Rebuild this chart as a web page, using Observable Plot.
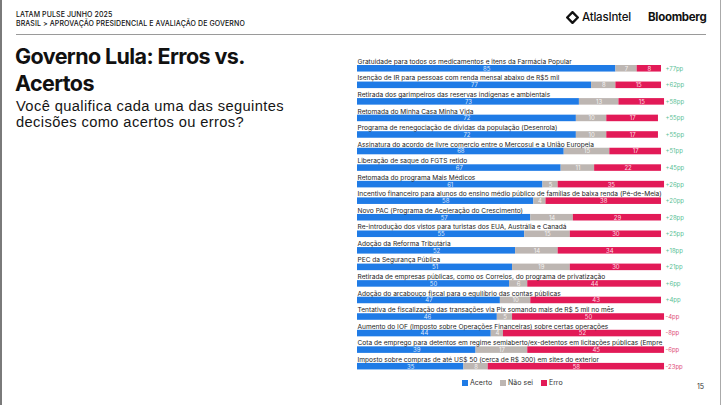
<!DOCTYPE html>
<html>
<head>
<meta charset="utf-8">
<script src="https://cdn.jsdelivr.net/npm/d3@7"></script>
<script src="https://cdn.jsdelivr.net/npm/@observablehq/plot@0.6"></script>
<style>
  html, body { margin: 0; padding: 0; background: #fff; }
  body { width: 723px; height: 405px; position: relative; overflow: hidden; font-family: Inter, "Noto Sans", sans-serif; color: #111; }
  .abs { position: absolute; white-space: nowrap; }
  #hdr1, #hdr2 { left: 16px; font-size: 7px; font-weight: 500; letter-spacing: 0.1px; }
  #hdr1 { top: 9.5px; }
  #hdr2 { top: 18.7px; }
  #rule { left: 16px; top: 34px; width: 690px; height: 1px; background: #9a9a9a; }
  .title { left: 15px; font-size: 21.5px; font-weight: 700; line-height: 21.5px; letter-spacing: -0.6px; }
  #t1 { top: 46.4px; }
  #t2 { top: 72.9px; }
  .sub { left: 16px; font-family: "Liberation Sans", Arial, sans-serif; font-size: 14.7px; font-weight: 400; line-height: 16.5px; letter-spacing: 0.38px; color: #151515; }
  #s1 { top: 97.7px; }
  #s2 { top: 114.4px; }
  #atlas { left: 582px; top: 10px; font-size: 11.5px; font-weight: 500; letter-spacing: -0.2px; }
  #atlasIcon { left: 566px; top: 11px; }
  #bloom { left: 648px; top: 10px; font-size: 11.5px; font-weight: 700; letter-spacing: -0.3px; }
  #chart { left: 350px; top: 50px; }
  #chart svg { display: block; }
  #legend { left: 462px; top: 378px; font-size: 7px; display: flex; gap: 8px; color: #333; }
  #legend span.sw { display: inline-block; width: 6px; height: 6px; margin-right: 2px; vertical-align: -0.5px; }
  #page { left: 697px; top: 382px; font-size: 7px; color: #333; }
  #lb { left: 0; top: 0; width: 2px; height: 405px; background: #7a7a7a; }
  #rb { left: 720px; top: 0; width: 1px; height: 405px; background: #aaa; }
</style>
</head>
<body>
<div id="lb" class="abs"></div>
<div id="rb" class="abs"></div>
<div id="hdr1" class="abs">LATAM PULSE JUNHO 2025</div>
<div id="hdr2" class="abs">BRASIL &gt; APROVAÇÃO PRESIDENCIAL E AVALIAÇÃO DE GOVERNO</div>
<div id="rule" class="abs"></div>
<svg id="atlasIcon" class="abs" width="13" height="13" viewBox="0 0 13 13"><path d="M6.5 1.2 L11.8 6.5 L6.5 11.8 L1.2 6.5 Z" fill="none" stroke="#111" stroke-width="2.4" stroke-linejoin="round"/></svg>
<div id="atlas" class="abs">AtlasIntel</div>
<div id="bloom" class="abs">Bloomberg</div>
<div id="t1" class="abs title">Governo Lula: Erros vs.</div>
<div id="t2" class="abs title">Acertos</div>
<div id="s1" class="abs sub">Você qualifica cada uma das seguintes</div>
<div id="s2" class="abs sub">decisões como acertos ou erros?</div>
<div id="chart" class="abs"></div>
<div id="legend" class="abs"></div>
<div id="page" class="abs">15</div>
<script>
const items = [
  "Gratuidade para todos os medicamentos e itens da Farmácia Popular",
  "Isenção de IR para pessoas com renda mensal abaixo de R$5 mil",
  "Retirada dos garimpeiros das reservas indígenas e ambientais",
  "Retomada do Minha Casa Minha Vida",
  "Programa de renegociação de dívidas da população (Desenrola)",
  "Assinatura do acordo de livre comercio entre o Mercosul e a União Europeia",
  "Liberação de saque do FGTS retido",
  "Retomada do programa Mais Médicos",
  "Incentivo financeiro para alunos do ensino médio público de famílias de baixa renda (Pé-de-Meia)",
  "Novo PAC (Programa de Aceleração do Crescimento)",
  "Re-introdução dos vistos para turistas dos EUA, Austrália e Canadá",
  "Adoção da Reforma Tributária",
  "PEC da Segurança Pública",
  "Retirada de empresas públicas, como os Correios, do programa de privatização",
  "Adoção do arcabouço fiscal para o equilíbrio das contas públicas",
  "Tentativa de fiscalização das transações via Pix somando mais de R$ 5 mil no mês",
  "Aumento do IOF (Imposto sobre Operações Financeiras) sobre certas operações",
  "Cota de emprego para detentos em regime semiaberto/ex-detentos em licitações públicas (Empre",
  "Imposto sobre compras de até US$ 50 (cerca de R$ 300) em sites do exterior"
];
const acerto = [85, 77, 73, 72, 72, 68, 67, 61, 58, 57, 55, 52, 51, 50, 47, 46, 44, 39, 35];
const naoSei = [7, 8, 13, 10, 10, 15, 11, 5, 4, 14, 15, 14, 19, 6, 10, 5, 4, 17, 8];
const erro   = [8, 15, 15, 17, 17, 17, 22, 35, 38, 29, 30, 34, 30, 44, 43, 50, 52, 45, 58];
const saldo  = ["+77pp", "+62pp", "+58pp", "+55pp", "+55pp", "+51pp", "+45pp", "+26pp", "+20pp", "+28pp",
                "+25pp", "+18pp", "+21pp", "+6pp", "+4pp", "-4pp", "-8pp", "-6pp", "-23pp"];
const responses = ["Acerto", "Não sei", "Erro"];
const colors = ["#1f7be6", "#bdb6b2", "#e21a57"];

const long = [];
items.forEach((it, i) => {
  long.push({item: it, resp: "Acerto", value: acerto[i]});
  long.push({item: it, resp: "Não sei", value: naoSei[i]});
  long.push({item: it, resp: "Erro", value: erro[i]});
});
const rows = items.map((it, i) => ({item: it, saldo: saldo[i]}));

const rowH = 16.55;
const innerH = rowH * items.length;
const chart = Plot.plot({
  width: 371,
  height: 5 + innerH + 1,
  marginLeft: 7,
  marginRight: 60,
  marginTop: 5,
  marginBottom: 1,
  style: {fontFamily: "Inter, 'Noto Sans', sans-serif", background: "transparent"},
  x: {domain: [0, 100], axis: null},
  y: {type: "band", domain: items, padding: 0, round: false, range: [5, 5 + innerH], axis: null},
  color: {domain: responses, range: colors},
  marks: [
    Plot.barX(long, {x: "value", y: "item", fill: "resp", insetTop: 10, insetBottom: 0}),
    Plot.text(long, Plot.stackX({x: "value", y: "item", z: "resp", text: d => String(d.value),
      fill: "white", fontSize: 6, dy: 5, fillOpacity: 0.85})),
    Plot.text(rows, {x: () => 0, y: "item", text: "item", textAnchor: "start",
      fontSize: 6.6, fill: "#222", dy: -2}),
    Plot.text(rows, {x: () => 100, y: "item", text: "saldo", textAnchor: "start", dx: 4, dy: 5,
      fontSize: 6, fill: d => d.saldo.startsWith("-") ? "#e0507a" : "#5cbf97"})
  ]
});
document.getElementById("chart").appendChild(chart);

const legend = document.getElementById("legend");
responses.forEach((r, i) => {
  const el = document.createElement("div");
  el.innerHTML = `<span class="sw" style="background:${colors[i]}"></span>${r}`;
  legend.appendChild(el);
});
</script>
</body>
</html>
